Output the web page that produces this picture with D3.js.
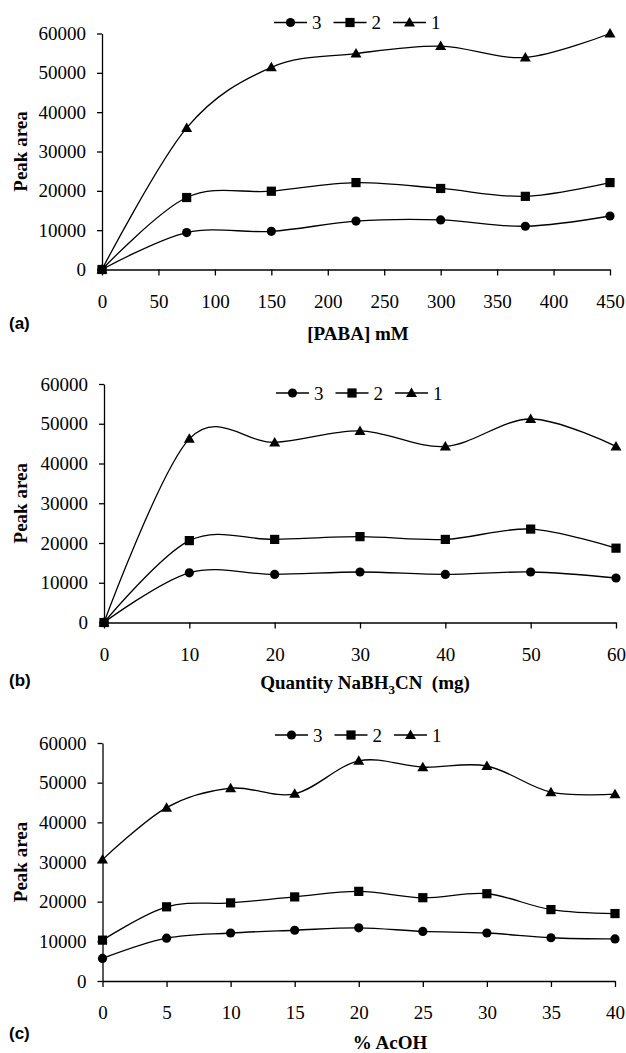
<!DOCTYPE html>
<html>
<head>
<meta charset="utf-8">
<script src="https://cdn.jsdelivr.net/npm/d3@7"></script>
<style>
  body { margin: 0; background: #fff; }
  svg text { fill: #000; font-family: "Liberation Serif", "Times New Roman", Times, serif; font-size: 19px; }
  svg text.sans { font-family: "Liberation Sans", Arial, sans-serif; }
  svg text.bold { font-weight: bold; }
</style>
</head>
<body>
<svg id="drawing_region"></svg>
<script>
// ---- data ----
const yTicks = [0, 10000, 20000, 30000, 40000, 50000, 60000];

const xA = [0, 75, 150, 225, 300, 375, 450];
const xTicksA = [0, 50, 100, 150, 200, 250, 300, 350, 400, 450];
const a1 = [0, 36000, 51400, 54900, 56800, 53900, 60000];
const a2 = [0, 18300, 19900, 22100, 20600, 18600, 22100];
const a3 = [0, 9400, 9700, 12300, 12600, 11000, 13600];

const xB = [0, 10, 20, 30, 40, 50, 60];
const xTicksB = [0, 10, 20, 30, 40, 50, 60];
const b1 = [0, 46200, 45300, 48200, 44300, 51200, 44300];
const b2 = [0, 20600, 20900, 21600, 20900, 23500, 18700];
const b3 = [0, 12500, 12100, 12700, 12100, 12700, 11200];

const xC = [0, 5, 10, 15, 20, 25, 30, 35, 40];
const xTicksC = [0, 5, 10, 15, 20, 25, 30, 35, 40];
const c1 = [30600, 43700, 48600, 47200, 55500, 53900, 54200, 47600, 47100];
const c2 = [10300, 18700, 19700, 21200, 22600, 21000, 22000, 18000, 17000];
const c3 = [5700, 10800, 12100, 12800, 13400, 12500, 12100, 10900, 10600];

const legendNames = ["3", "2", "1"];

const svg = d3.select('#drawing_region')
    .attr('width', 626)
    .attr('height', 1053);

function marker(g, kind, x, y) {
    if (kind === "circle") {
        g.append('circle').attr('cx', x).attr('cy', y).attr('r', 4.6).attr('fill', '#000');
    } else if (kind === "square") {
        g.append('rect').attr('x', x - 4.6).attr('y', y - 4.6).attr('width', 9.2).attr('height', 9.2).attr('fill', '#000');
    } else {
        g.append('path').attr('d', `M${x},${y-5.5}L${x+5.5},${y+4}L${x-5.5},${y+4}Z`).attr('fill', '#000');
    }
}

function drawPanel(cfg) {
    const xscale = d3.scaleLinear().domain(cfg.xdomain).range([cfg.left, cfg.right]);
    const yscale = d3.scaleLinear().domain([0, 60000]).range([cfg.bottom, cfg.top]);

    const g = svg.append('g');

    const yaxis = d3.axisLeft(yscale).tickValues(yTicks).tickSize(5).tickSizeOuter(0).tickPadding(11).tickFormat(d3.format('d'));
    const xaxis = d3.axisBottom(xscale).tickValues(cfg.xticks).tickSize(6).tickSizeOuter(0).tickPadding(19).tickFormat(d3.format('d'));

    const yg = g.append('g').attr('transform', `translate(${cfg.left},0)`).call(yaxis);
    const xg = g.append('g').attr('transform', `translate(0,${cfg.bottom})`).call(xaxis);
    [yg, xg].forEach(ax => {
        ax.attr('font-family', null).attr('font-size', null);
        ax.selectAll('path, line').attr('stroke', '#000').attr('stroke-width', 1.3);
        ax.selectAll('text').attr('fill', '#000');
    });

    const line = d3.line()
        .x(d => xscale(d.x))
        .y(d => yscale(d.y))
        .curve(d3.curveCardinal.tension(0));

    const kinds = ["triangle", "square", "circle"];
    cfg.series.forEach((vals, i) => {
        const pts = cfg.x.map((x, j) => ({x: x, y: vals[j]}));
        g.append('path')
            .attr('d', line(pts))
            .attr('fill', 'none')
            .attr('stroke', '#000')
            .attr('stroke-width', 1.3);
        pts.forEach(p => marker(g, kinds[i], xscale(p.x), yscale(p.y)));
    });

    // legend
    const lg = g.append('g');
    const lkinds = ["circle", "square", "triangle"];
    legendNames.forEach((name, i) => {
        const x0 = cfg.legendX + i * 59.5;
        lg.append('line').attr('x1', x0).attr('x2', x0 + 33)
            .attr('y1', cfg.legendY).attr('y2', cfg.legendY)
            .attr('stroke', '#000').attr('stroke-width', 1.3);
        marker(lg, lkinds[i], x0 + 16.5, cfg.legendY);
        lg.append('text').attr('x', x0 + 38).attr('y', cfg.legendY + 6.5).text(name);
    });

    // y title
    const ycx = 20, ycy = (cfg.top + cfg.bottom) / 2;
    g.append('text')
        .attr('class', 'bold')
        .attr('x', ycx).attr('y', ycy)
        .attr('text-anchor', 'middle')
        .attr('dominant-baseline', 'central')
        .attr('transform', `rotate(-90,${ycx},${ycy})`)
        .text("Peak area");

    // panel letter
    g.append('text').attr('class', 'sans bold').attr('x', 9).attr('y', cfg.letterY)
        .style('font-size', '17px')
        .text(cfg.letter);

    // x title
    const xt = g.append('text').attr('class', 'bold').attr('x', cfg.titleX).attr('y', cfg.titleY)
        .attr('text-anchor', 'middle')
        .style('white-space', 'pre');
    cfg.title(xt);
}

drawPanel({
    x: xA, xdomain: [0, 450], xticks: xTicksA, series: [a1, a2, a3],
    left: 102, right: 610, top: 33.5, bottom: 269.5,
    legendX: 274, legendY: 22.5,
    letter: "(a)", letterY: 329,
    titleX: 358, titleY: 340,
    title: t => t.text("[PABA] mM")
});

drawPanel({
    x: xB, xdomain: [0, 60], xticks: xTicksB, series: [b1, b2, b3],
    left: 104, right: 616, top: 384, bottom: 622.5,
    legendX: 276, legendY: 393,
    letter: "(b)", letterY: 686,
    titleX: 365, titleY: 689,
    title: t => {
        t.append('tspan').text("Quantity NaBH");
        t.append('tspan').style('font-size', '13px').attr('dy', 5).text("3");
        t.append('tspan').attr('dy', -5).text("CN  (mg)");
    }
});

drawPanel({
    x: xC, xdomain: [0, 40], xticks: xTicksC, series: [c1, c2, c3],
    left: 102.5, right: 615, top: 743, bottom: 981,
    legendX: 275, legendY: 735,
    letter: "(c)", letterY: 1039,
    titleX: 390, titleY: 1049,
    title: t => t.text("% AcOH")
});
</script>
</body>
</html>
